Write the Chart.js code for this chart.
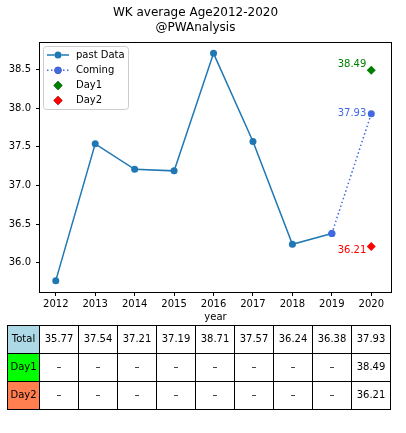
<!DOCTYPE html>
<html>
<head>
<meta charset="utf-8">
<script src="https://cdn.jsdelivr.net/npm/chart.js@4.4.0/dist/chart.umd.min.js"></script>
<style>
    html, body { margin: 0; padding: 0; background: #fff; }
    #wrap { width: 406px; height: 433px; }
</style>
</head>
<body>
<div id="wrap"><canvas id="ageChart" width="406" height="433"></canvas></div>
<script>
// data
var years = [2012, 2013, 2014, 2015, 2016, 2017, 2018, 2019, 2020];
var pastYears = [2012, 2013, 2014, 2015, 2016, 2017, 2018, 2019];
var pastValues = [35.77, 37.54, 37.21, 37.19, 38.71, 37.57, 36.24, 36.38];
var comingYears = [2019, 2020];
var comingValues = [36.38, 37.93];
var day1Years = [2020];
var day1Values = [38.49];
var day2Years = [2020];
var day2Values = [36.21];
var yTicks = [36.0, 36.5, 37.0, 37.5, 38.0, 38.5];
var rowLabels = ["Total", "Day1", "Day2"];

var rowColors = ["#add8e6", "#00ff00", "#ff7f50"];
var FONT = "'DejaVu Sans', 'Liberation Sans', sans-serif";

function points(xs, ys) {
    return xs.map(function (x, i) { return { x: x, y: ys[i] }; });
}

// table rows, one cell per year
function valueAt(xs, ys, year) {
    var i = xs.indexOf(year);
    return i < 0 ? "\u2013" : ys[i].toFixed(2);
}
var tableRows = [
    years.map(function (y) {
        return y === 2020 ? valueAt(comingYears, comingValues, y) : valueAt(pastYears, pastValues, y);
    }),
    years.map(function (y) { return valueAt(day1Years, day1Values, y); }),
    years.map(function (y) { return valueAt(day2Years, day2Values, y); }),
];

Chart.defaults.font.family = FONT;
Chart.defaults.font.size = 10;
Chart.defaults.color = "#000";

// axes frame, value labels, legend box and table
var extras = {
    id: "extras",
    beforeDatasetsDraw: function (chart) {
        var ctx = chart.ctx, a = chart.chartArea;
        ctx.save();
        ctx.strokeStyle = "#000";
        ctx.lineWidth = 1;
        ctx.strokeRect(Math.round(a.left) - 0.5, Math.round(a.top) + 0.5,
            Math.round(a.right - a.left) + 1, Math.round(a.bottom - a.top));
        ctx.restore();
    },
    afterDraw: function (chart) {
        var ctx = chart.ctx, a = chart.chartArea;
        var xs = chart.scales.x, ys = chart.scales.y;
        ctx.save();
        ctx.font = "10px " + FONT;

        // value labels next to the 2020 marks
        var notes = [
            [day1Years[0], day1Values[0], "#008000", -6],
            [comingYears[1], comingValues[1], "#4169e1", 0],
            [day2Years[0], day2Values[0], "#ff0000", 4],
        ];
        ctx.textAlign = "right";
        ctx.textBaseline = "middle";
        notes.forEach(function (n) {
            ctx.fillStyle = n[2];
            ctx.fillText(n[1].toFixed(2), xs.getPixelForValue(n[0]) - 5, ys.getPixelForValue(n[1]) + n[3]);
        });

        // legend
        var lx = 43.5, ly = 46.5, lw = 85, lh = 63;
        ctx.beginPath();
        ctx.roundRect(lx, ly, lw, lh, 3);
        ctx.fillStyle = "rgba(255,255,255,0.8)";
        ctx.fill();
        ctx.strokeStyle = "#cccccc";
        ctx.stroke();
        var ds = chart.data.datasets;
        ds.forEach(function (d, i) {
            var cy = 55 + i * 15.2;
            if (d.showLine !== false) {
                ctx.beginPath();
                ctx.setLineDash(d.borderDash || []);
                ctx.strokeStyle = d.borderColor;
                ctx.lineWidth = d.borderWidth;
                ctx.moveTo(47, cy);
                ctx.lineTo(69, cy);
                ctx.stroke();
                ctx.setLineDash([]);
            }
            Chart.helpers.drawPoint(ctx, {
                pointStyle: d.pointStyle,
                radius: d.pointRadius,
                borderWidth: 0,
            }, 58, cy);
            ctx.fillStyle = d.pointBackgroundColor;
            ctx.fill();
            ctx.fillStyle = "#000";
            ctx.textAlign = "left";
            ctx.fillText(d.label, 76, cy);
        });

        // table under the axis
        var top = 325.5, rowH = 28;
        var colW = (a.right - a.left) / years.length;
        var headL = 7.5, headR = Math.round(a.left) - 0.5;
        ctx.strokeStyle = "#000";
        ctx.lineWidth = 1;
        ctx.textAlign = "center";
        ctx.textBaseline = "middle";
        tableRows.forEach(function (row, r) {
            var y0 = top + r * rowH;
            ctx.fillStyle = rowColors[r];
            ctx.fillRect(headL, y0, headR - headL, rowH);
            ctx.strokeRect(headL, y0, headR - headL, rowH);
            ctx.fillStyle = "#000";
            ctx.fillText(rowLabels[r], (headL + headR) / 2, y0 + rowH / 2);
            row.forEach(function (txt, c) {
                var x0 = Math.round(a.left + c * colW) - 0.5;
                var x1 = Math.round(a.left + (c + 1) * colW) - 0.5;
                ctx.strokeRect(x0, y0, x1 - x0, rowH);
                ctx.fillText(txt, (x0 + x1) / 2, y0 + rowH / 2);
            });
        });
        ctx.restore();
    },
};

var ctxAge = document.getElementById("ageChart").getContext("2d");
var ageChart = new Chart(ctxAge, {
    type: "line",
    data: {
        datasets: [
            {
                label: "past Data",
                data: points(pastYears, pastValues),
                borderColor: "#1f77b4",
                backgroundColor: "#1f77b4",
                pointBackgroundColor: "#1f77b4",
                borderWidth: 1.5,
                pointRadius: 3.5,
                pointBorderWidth: 0,
                pointStyle: "circle",
                order: 2,
            },
            {
                label: "Coming",
                data: points(comingYears, comingValues),
                borderColor: "#4169e1",
                backgroundColor: "#4169e1",
                pointBackgroundColor: "#4169e1",
                borderWidth: 1.5,
                borderDash: [1.5, 2.5],
                pointRadius: 3.5,
                pointBorderWidth: 0,
                pointStyle: "circle",
                order: 1,
            },
            {
                label: "Day1",
                data: points(day1Years, day1Values),
                showLine: false,
                borderColor: "#008000",
                backgroundColor: "#008000",
                pointBackgroundColor: "#008000",
                pointRadius: 4.5,
                pointBorderWidth: 0,
                pointStyle: "rectRot",
                order: 0,
            },
            {
                label: "Day2",
                data: points(day2Years, day2Values),
                showLine: false,
                borderColor: "#ff0000",
                backgroundColor: "#ff0000",
                pointBackgroundColor: "#ff0000",
                pointRadius: 4.5,
                pointBorderWidth: 0,
                pointStyle: "rectRot",
                order: 0,
            },
        ],
    },
    options: {
        responsive: false,
        animation: false,
        devicePixelRatio: 1,
        layout: { padding: { left: 0, right: 15, top: 0, bottom: 110 } },
        elements: { line: { tension: 0 } },
        plugins: {
            legend: { display: false },
            tooltip: { enabled: false },
            title: {
                display: true,
                text: ["WK average Age2012-2020", "@PWAnalysis"],
                color: "#000",
                font: { size: 12, weight: "normal", lineHeight: 1.25 },
                padding: { top: 5, bottom: 7 },
            },
        },
        scales: {
            x: {
                type: "linear",
                min: 2011.6,
                max: 2020.5,
                afterBuildTicks: function (scale) {
                    scale.ticks = years.map(function (v) { return { value: v }; });
                },
                afterFit: function (scale) { scale.height = 31; },
                ticks: { padding: 2, callback: function (v) { return String(v); } },
                grid: { drawOnChartArea: false, drawTicks: true, tickLength: 4, color: "#000" },
                border: { display: false },
                title: { display: true, text: "year", padding: 0, font: { size: 10 } },
            },
            y: {
                min: 35.623,
                max: 38.857,
                afterBuildTicks: function (scale) {
                    scale.ticks = yTicks.map(function (v) { return { value: v }; });
                },
                afterFit: function (scale) { scale.width = 40; },
                ticks: { padding: 5, callback: function (v) { return v.toFixed(1); } },
                grid: { drawOnChartArea: false, drawTicks: true, tickLength: 4, color: "#000" },
                border: { display: false },
            },
        },
    },
    plugins: [extras],
});
</script>
</body>
</html>
